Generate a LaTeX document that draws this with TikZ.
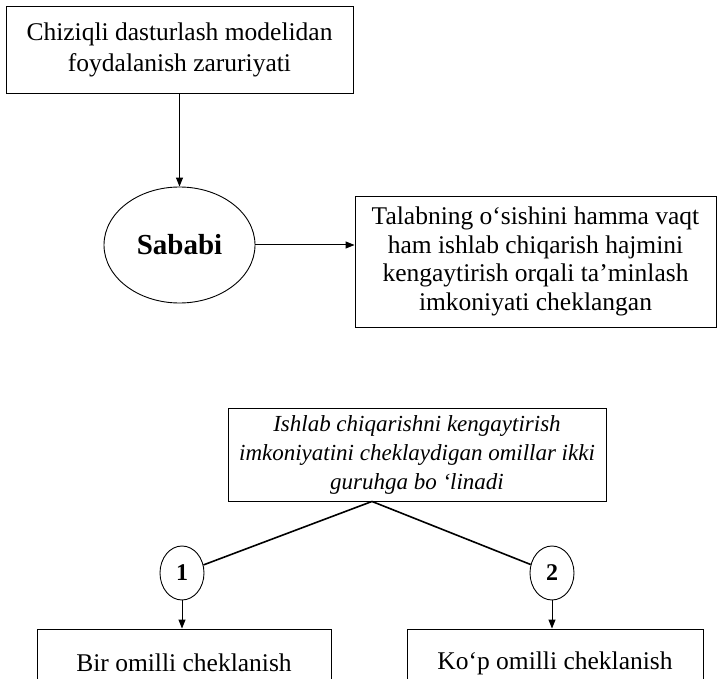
\documentclass[tikz,border=0pt]{standalone}
\usepackage{fontspec}
\setmainfont{Liberation Serif}
\usetikzlibrary{arrows.meta,shapes.geometric}
\begin{document}
\begin{tikzpicture}[x=1pt,y=-1pt,
  box/.style={draw,line width=0.9pt,align=center,inner sep=0pt,font=\fontsize{25.5}{31}\selectfont},
  oval/.style={draw,ellipse,line width=0.9pt,inner sep=0pt},
  num/.style={oval,minimum width=44pt,minimum height=54pt,font=\fontsize{24}{28}\selectfont\bfseries},
  arr/.style={line width=1pt,-{Triangle[length=9pt,width=7pt]}},
  link/.style={line width=1.6pt}]
\clip (0,0) rectangle (724,679);
\fill[white] (0,0) rectangle (724,679);
\node[box,minimum width=347pt,minimum height=87pt] (need) at (179.5,49.5) {Chiziqli dasturlash modelidan\\foydalanish zaruriyati};
\node[oval,minimum width=151pt,minimum height=116pt,font=\fontsize{29}{33}\selectfont\bfseries] (cause) at (179.5,245) {Sababi};
\node[box,minimum width=361pt,minimum height=131pt,font=\fontsize{25.5}{28.5}\selectfont] (limit) at (535.5,261.5) {Talabning o‘sishini hamma vaqt\\ham ishlab chiqarish hajmini\\kengaytirish orqali ta’minlash\\imkoniyati cheklangan};
\node[box,minimum width=378pt,minimum height=93pt,font=\fontsize{23}{29}\selectfont\itshape] (split) at (417,454.5) {Ishlab chiqarishni kengaytirish\\imkoniyatini cheklaydigan omillar ikki\\guruhga bo ‘linadi};
\coordinate (apex) at ([xshift=-45pt]split.south);
\node[num] (c1) at (182,573) {1};
\node[num] (c2) at (552,573) {2};
\node[box,minimum width=294pt,minimum height=68pt] (b1) at (184,663) {Bir omilli cheklanish};
\node[box,minimum width=296pt,minimum height=68pt] (b2) at (555,663) {Ko‘p omilli cheklanish};
\draw[arr] (need.south) -- (cause.north);
\draw[arr] (cause.east) -- (cause.east -| limit.west);
\draw[link] (apex) -- (c1);
\draw[link] (apex) -- (c2);
\draw[arr] (c1.south) -- (c1.south |- b1.north);
\draw[arr] (c2.south) -- (c2.south |- b2.north);
\end{tikzpicture}
\end{document}
